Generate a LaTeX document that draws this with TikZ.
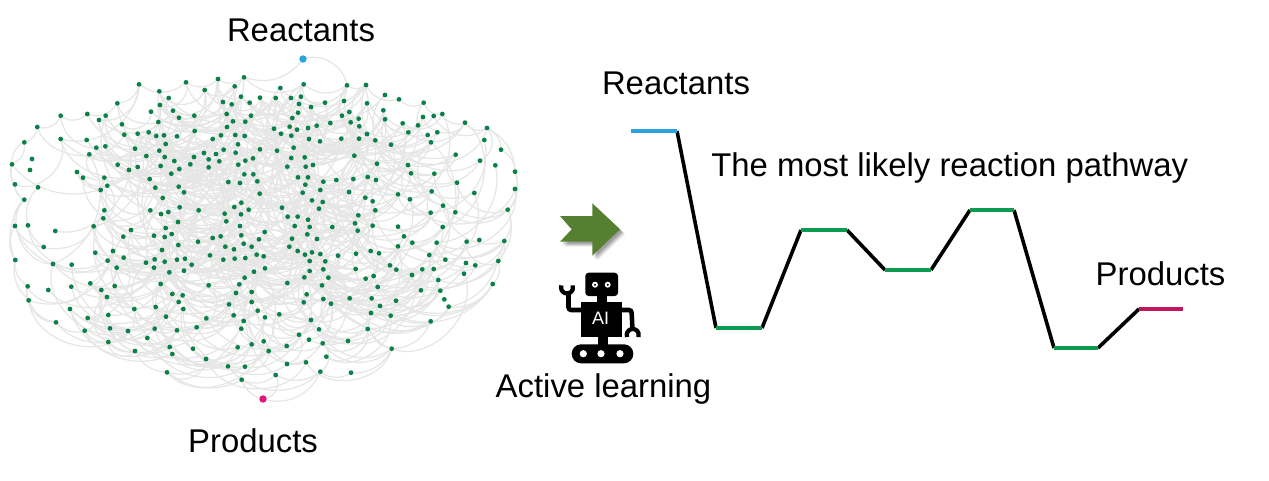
\documentclass[tikz,border=0pt]{standalone}
\usepackage{fontspec}
\setmainfont{Liberation Sans}
\usetikzlibrary{calc}
\pgfdeclarelayer{edges}
\pgfsetlayers{edges,main}
\definecolor{edgegrey}{HTML}{E6E6E6}
\definecolor{dotgreen}{HTML}{0B8149}
\definecolor{cblue}{HTML}{2BA3DC}
\definecolor{cpink}{HTML}{E0187C}
\definecolor{cgreen}{HTML}{0E9A50}
\definecolor{ccrim}{HTML}{C2185B}
\definecolor{arrowgreen}{HTML}{54802F}
\newcount\dotn
\newcommand{\dotpanel}[3]{%
  \foreach \zx/\zy in {#3} {%
    \global\advance\dotn by 1
    \node[gdot] (d\the\dotn) at ({#1+\zx/3},{#2+\zy/3}) {};
  }%
}
\newcommand{\tryedge}[2]{%
  \pgfpointanchor{d#1}{center}\pgfgetlastxy\xa\ya
  \pgfpointanchor{d#2}{center}\pgfgetlastxy\xb\yb
  \pgfmathsetmacro\edist{veclen(\xb-\xa,\yb-\ya)}
  \pgfmathparse{(\edist<90 && \edist>20 && mod(mod(#1,50)*mod(#2,50)+mod(#2,7),5)<2) ? 1 : 0}
  \ifnum\pgfmathresult=1
    \pgfmathtruncatemacro\ebend{40+mod(#1+#2,4)*8}
    \ifdim\xa<\xb
      \draw[gedge] (d#1) to[bend right=\ebend] (d#2);
    \else
      \draw[gedge] (d#2) to[bend right=\ebend] (d#1);
    \fi
  \fi
}
\tikzset{
  gdot/.style={circle,fill=dotgreen,inner sep=0pt,minimum size=3.6pt},
  gedge/.style={draw=edgegrey,line width=0.95pt},
  label/.style={font=\fontsize{24.65}{28}\selectfont,inner sep=0pt,text=black},
  plateau/.style={line width=2.4pt},
  slope/.style={draw=black,line width=2.7pt},
  robot/.style={fill=black,draw=none},
  limb/.style={draw=black,line width=3.4pt,rounded corners=2pt},
  grip/.style={draw=black,line width=3.2pt},
}
\begin{document}
\begin{tikzpicture}[x=0.75pt,y=-0.75pt]
\useasboundingbox (0,0) rectangle (1269,480);
% ---- dots
\dotpanel{0}{50}{417/103,478/124,506/144,558/97,614/120,654/87,732/82,704/109,723/140,780/143,749/158,669/156,695/163,352/160,480/165,453/185,519/182,182/197,262/192,297/210,317/197,112/231,366/223,475/216,537/203,583/197,680/192,753/197,699/214,736/215,681/231,584/243,373/254,413/251,446/247,469/258,492/256,531/259,638/267,663/256,706/255,734/258,73/277,182/267,260/270,289/293,316/289,497/282,405/296,478/302,714/283,780/298,268/313,439/318,494/321,582/321,612/309,648/312,671/299,707/308,96/327,523/333,626/328,658/334,736/332,759/325,36/343,90/360,353/344,387/360,413/351,482/348,538/357,571/343,626/352,715/344,231/366,514/371,733/373,760/373,249/383,313/383,449/387,685/396,720/399,772/394,45/403,322/407,466/413,536/410,114/412,302/420,552/427,779/431,73/449,488/444,724/458,703/471,746/479,313/481,451/481,539/472,596/481,483/492,505/486,674/491,723/493,310/505,679/514,534/516}
\dotpanel{260}{50}{61/114,131/103,261/106,318/105,375/135,417/148,491/158,47/144,93/144,123/140,117/162,153/171,195/158,252/153,321/160,370/181,114/188,97/204,268/186,246/197,296/206,272/217,298/229,375/208,428/220,489/201,521/198,547/192,615/218,681/234,474/226,445/247,503/255,532/247,42/236,89/230,111/239,144/234,170/227,211/219,63/251,94/257,147/267,180/274,244/266,297/266,321/252,346/271,393/284,513/277,673/270,723/299,101/293,51/302,94/324,134/322,283/317,587/314,660/332,706/346,82/350,137/350,159/345,351/341,444/345,453/370,523/371,765/365,114/382,144/382,190/395,229/390,280/387,323/381,348/390,136/404,591/398,765/417,128/428,181/420,267/426,414/433,515/424,643/429,156/451,188/456,316/443,338/454,450/448,66/473,177/476,346/481,549/467,512/488,586/487,743/479,83/500,113/500,144/509,295/496,285/520}
\dotpanel{0}{225}{45/3,84/1,166/18,281/4,393/15,497/9,720/3,794/21,370/35,462/32,494/36,515/27,594/50,638/39,662/34,724/31,777/43,535/60,131/66,486/75,286/83,339/78,676/65,702/73,731/56,755/65,770/89,791/94,46/105,323/107,371/98,438/113,464/103,494/110,531/104,555/101,630/91,670/104,704/101,736/99,159/117,215/119,350/128,462/128,575/119,795/130,508/142,552/137,762/140,734/158,83/184,145/195,214/185,271/175,304/195,344/183,482/177,626/181,718/178,321/216,517/207,548/211,708/204,755/201,86/226,536/231,755/231,687/238,210/252,403/252,467/246,550/252,773/257,263/279,325/270,498/275,619/280,701/271,795/277,168/292,731/288,330/310,254/317,384/318,464/311,531/316,590/307,724/311,325/351,442/339,791/349,755/358,509/366,579/371,713/367,405/378,806/378,517/387,618/402,684/424,735/425,501/442,725/464}
\dotpanel{260}{225}{104/3,149/6,217/6,338/2,414/5,548/6,293/17,142/28,96/41,171/42,432/34,457/53,530/53,620/50,658/45,733/48,88/65,113/78,135/89,156/82,181/87,234/92,288/86,332/78,357/85,414/64,508/90,556/104,149/108,196/109,618/114,646/121,715/108,390/121,409/134,487/133,521/132,149/138,190/133,287/132,133/157,205/158,317/161,341/153,456/150,535/165,612/146,82/174,186/181,353/186,698/177,483/196,541/197,140/208,190/222,269/220,335/220,408/227,553/223,131/232,213/236,360/243,566/245,58/268,333/264,392/272,153/285,512/289,177/313,323/312,117/329,147/344,188/355,264/348,80/363,395/371,199/395,81/417,138/412,181/440,273/443,47/450}
\node[circle,fill=cblue,inner sep=0pt,minimum size=5.6pt] (react) at (303,59) {};
\node[circle,fill=cpink,inner sep=0pt,minimum size=5.6pt] (prod) at (263,399) {};
% ---- hull anchors
\foreach \hx/\hy [count=\hi] in {12/164,24/142,37/127,61/116,87/114,117/103,139/84,186/82,218/79,244/77,304/84,347/85,366/85,399/99,424/103,442/114,465/123,487/128}
  \coordinate (t\hi) at (\hx,\hy);
\foreach \hx/\hy [count=\hi] in {487/128,501/150,515/172,515/189,508/210,504/241,498/261,493/284,449/307,431/321,392/349,351/373,320/372,276/375,242/380,167/372,135/351,108/342,85/331,56/322,29/300,28/286,15/260,15/226,24/200,15/184,12/164,24/142}
  \coordinate (o\hi) at (\hx,\hy);
\begin{pgfonlayer}{edges}
  \foreach \a in {1,...,17} {
    \pgfmathtruncatemacro\b{\a+1}
    \draw[gedge] (t\a) to[bend right=42] (t\b);
  }
  \foreach \a in {1,...,27} {
    \pgfmathtruncatemacro\b{\a+1}
    \draw[gedge] (o\a) to[bend left=32] (o\b);
  }
  \foreach \a in {1,3,5,7,21,23,25} {
    \pgfmathtruncatemacro\b{\a+2}
    \draw[gedge] (o\a) to[bend left=30] (o\b);
  }
  \foreach \i in {1,...,\the\dotn} {
    \foreach \off in {3,7,11,19,29,43,61,83,97,103,109,115,127,139,157,181,199,211,223,233,251} {
      \pgfmathtruncatemacro\j{\i+\off}
      \ifnum\j>\dotn\else
        \tryedge{\i}{\j}
      \fi
    }
  }
  \draw[gedge] (react) to[bend left=45] (t12);
  \draw[gedge] (t10) to[bend right=35] (react);
  \draw[gedge] (o15) to[bend right=25] (prod);
  \draw[gedge] (prod) to[bend right=50] (o14);
  \draw[gedge] (prod) to[bend right=40] (o13);
\end{pgfonlayer}
% ---- labels
\node[label] (l1) at (301,30.5) {Reactants};
\node[label] (l2) at (253,441) {Products};
\node[label] (l3) at (676,83.5) {Reactants};
\node[label,anchor=west] (l4) at (711,168) {The most likely reaction pathway};
\node[label] (l5) at (1160.5,274) {Products};
\node[label] (l6) at (603.5,388.5) {Active learning};
% ---- energy profile
\foreach \n/\x/\y in {a/631/131,b/677/131,c/716/328,d/762/328,e/801/230,f/847/230,g/885/270,h/931/270,i/970/210,j/1014/210,k/1054/348,l/1098/348,m/1139/309,n/1183/309}
  \coordinate (p\n) at (\x,\y);
\draw[slope] (pb)--(pc) (pd)--(pe) (pf)--(pg) (ph)--(pi) (pj)--(pk) (pl)--(pm);
\draw[plateau,draw=cblue,line width=2.3pt] (pa)--(pb);
\draw[plateau,draw=cgreen] (pc)--(pd);
\draw[plateau,draw=cgreen,line width=2.9pt] (pe)--(pf);
\draw[plateau,draw=cgreen] (pg)--(ph);
\draw[plateau,draw=cgreen] (pi)--(pj);
\draw[plateau,draw=cgreen,line width=2.9pt] (pk)--(pl);
\draw[plateau,draw=ccrim,line width=2.9pt] (pm)--(pn);
% ---- arrow
\foreach \s/\o in {5/0.08,4/0.1,3/0.12,2/0.14}
  \fill[black,opacity=\o,shift={(\s,\s)}] (560,216)--(592.3,216)--(592.3,203.3)--(620,229.3)--(592.3,255.7)--(592.3,241.7)--(560,241.7)--(571.7,229.3)--cycle;
\fill[arrowgreen] (560,216)--(592.3,216)--(592.3,203.3)--(620,229.3)--(592.3,255.7)--(592.3,241.7)--(560,241.7)--(571.7,229.3)--cycle;
% ---- robot
\fill[robot,rounded corners=2.5pt] (585.3,272.7) rectangle (618,296);
\fill[robot] (597,296) rectangle (607,302);
\fill[robot] (580.7,301.5) rectangle (621.7,336.7);
\fill[robot] (598,336) rectangle (608,345);
\fill[robot,rounded corners=7pt] (571.7,344.3) rectangle (633.3,363.3);
\foreach \hx in {583.3,601,620} \fill[white] (\hx,353.7) circle (3.6);
\foreach \hx in {595,607.7} {\fill[white] (\hx,284.7) circle (3); \fill[black] (\hx,284.7) circle (1.1);}
\draw[limb] (581,310)--(568.5,310)--(568.5,293);
\draw[grip] (561.4,285.4) arc[start angle=200,end angle=-20,x radius=6,y radius=6];
\draw[limb] (621,310)--(631.5,310)--(632.5,330);
\draw[grip] (627.1,337) arc[start angle=160,end angle=380,x radius=6,y radius=6];
\node[font=\fontsize{13.5}{15}\selectfont,text=white,inner sep=0pt] (ai) at (600.5,318) {AI};
\end{tikzpicture}
\end{document}
